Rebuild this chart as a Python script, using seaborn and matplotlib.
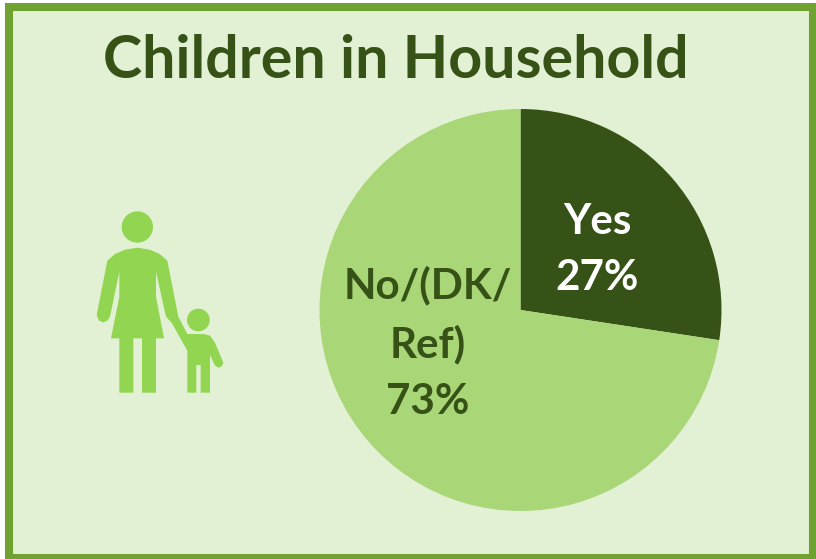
import matplotlib
matplotlib.use('Agg')
import matplotlib.pyplot as plt
from matplotlib.patches import Circle, Polygon, Rectangle
import seaborn as sns

# chart data
categories = ['Yes', 'No/(DK/\nRef)']
shares = [27.4, 72.6]
title = 'Children in Household'

W, H = 816, 559
dark = '#365217'
slice_colors = [dark, '#A9D677']
text_colors = ['white', dark]
label_pos = [(597, 250), (428, 343)]

sns.set_theme(style='white')
plt.rcParams['font.family'] = ['Lato', 'DejaVu Sans']

fig = plt.figure(figsize=(W / 100, H / 100), dpi=100)
fig.patch.set_facecolor('white')

# pixel overlay for panel, icon and text
bg = fig.add_axes([0, 0, 1, 1])
bg.set_xlim(0, W)
bg.set_ylim(H, 0)
bg.axis('off')
bg.add_patch(Rectangle((9, 7), 804, 551, facecolor='#E2F0D3', edgecolor='#70A232', linewidth=5.8))

# pie
cx, cy, r = 520.5, 310, 201
ax = fig.add_axes([(cx - r) / W, 1 - (cy + r) / H, 2 * r / W, 2 * r / H])
ax.pie(shares, colors=slice_colors, startangle=90, counterclock=False, radius=1,
       wedgeprops={'linewidth': 0})
ax.set_xlim(-1, 1)
ax.set_ylim(-1, 1)

top = fig.add_axes([0, 0, 1, 1])
top.set_xlim(0, W)
top.set_ylim(H, 0)
top.axis('off')
top.patch.set_alpha(0)

top.text(395.5, 61, title, ha='center', va='center', fontsize=42.6, fontweight='bold', color=dark)
for cat, val, col, (x, y) in zip(categories, shares, text_colors, label_pos):
    top.text(x, y, f'{cat}\n{val:.0f}%', ha='center', va='center', fontsize=30.3, fontweight='bold',
             color=col, linespacing=1.6)


def z(points):
    return [(80 + px / 3, 200 + py / 3) for px, py in points]


icon = '#92D550'
mother = [(82, 182), (105, 162), (135, 149), (172, 143), (209, 149), (239, 162), (262, 182), (295, 350),
          (322, 402), (370, 402), (390, 407), (405, 428), (430, 488), (426, 498), (416, 503), (405, 497),
          (390, 465), (390, 578), (362, 578), (362, 495), (349, 495), (349, 578), (322, 578), (322, 452),
          (275, 368), (258, 350), (228, 215), (228, 290), (252, 415), (228, 415), (228, 578), (186, 578),
          (186, 415), (160, 415), (160, 578), (118, 578), (118, 415), (93, 415), (118, 290), (118, 215),
          (90, 350), (82, 362), (70, 367), (57, 362), (50, 345)]
top.add_patch(Polygon(z(mother), closed=True, facecolor=icon, edgecolor='none'))
top.add_patch(Circle(z([(172, 81)])[0], 47 / 3, facecolor=icon, edgecolor='none'))
top.add_patch(Circle(z([(355, 360)])[0], 34 / 3, facecolor=icon, edgecolor='none'))

fig.savefig('out.png', dpi=100)
